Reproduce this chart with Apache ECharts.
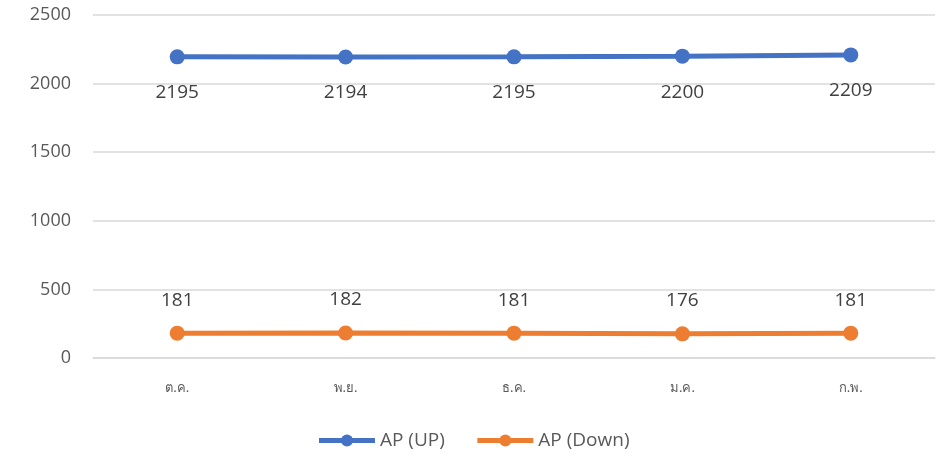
<!DOCTYPE html>
<html>
<head>
<meta charset="utf-8">
<script src="https://cdn.jsdelivr.net/npm/echarts@6/dist/echarts.min.js"></script>
<style>
  html, body { margin: 0; padding: 0; background: #fff; }
  #main { width: 946px; height: 462px; }
</style>
</head>
<body>
<div id="main"></div>
<script>
// data
let months = ["ต.ค.", "พ.ย.", "ธ.ค.", "ม.ค.", "ก.พ."];
let apUp = [2195, 2194, 2195, 2200, 2209];
let apDown = [181, 182, 181, 176, 181];
let seriesNames = ["AP (UP)", "AP (Down)"];

let chart = echarts.init(document.getElementById("main"));
let font = "Open Sans";

let option = {
    animation: false,
    grid: { left: 93, right: 11, top: 15, bottom: 104 },
    legend: {
        bottom: 7,
        left: "center",
        itemWidth: 56,
        itemHeight: 15,
        itemGap: 30,
        lineStyle: { width: 5 },
        textStyle: { fontSize: 19, color: "#595959", fontFamily: font },
        data: seriesNames
    },
    xAxis: {
        type: "category",
        data: months,
        axisLine: { show: true, lineStyle: { color: "#d9d9d9", width: 1.5 } },
        axisTick: { show: false },
        axisLabel: { fontSize: 13, color: "#595959", margin: 24, fontFamily: "Noto Sans" }
    },
    yAxis: {
        type: "value",
        min: 0,
        max: 2500,
        interval: 500,
        axisLabel: {
            fontSize: 18, color: "#595959", margin: 22, fontFamily: font,
            formatter: function (v) { return String(v); }
        },
        splitLine: { lineStyle: { color: "#d9d9d9", width: 1.5 } }
    },
    series: [
        {
            name: seriesNames[0],
            type: "line",
            data: apUp,
            symbol: "circle",
            symbolSize: 15,
            color: "#4472C4",
            lineStyle: { width: 5, color: "#4472C4" },
            label: { show: true, position: "bottom", distance: 19, fontSize: 19, color: "#404040", fontFamily: font }
        },
        {
            name: seriesNames[1],
            type: "line",
            data: apDown,
            symbol: "circle",
            symbolSize: 15,
            color: "#ED7D31",
            lineStyle: { width: 5, color: "#ED7D31" },
            label: { show: true, position: "top", distance: 16, fontSize: 19, color: "#404040", fontFamily: font }
        }
    ]
};
chart.setOption(option);
</script>
</body>
</html>
